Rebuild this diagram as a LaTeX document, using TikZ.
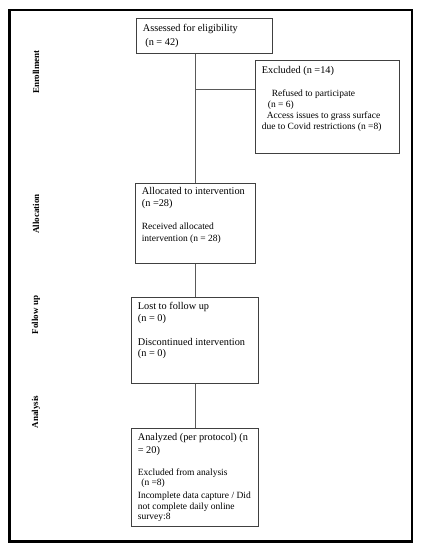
\documentclass[tikz,border=0pt]{standalone}
\usepackage{fontspec}
\setmainfont{Liberation Serif}
\newcommand{\mainsize}{\fontsize{10.3}{12}\selectfont}
\newcommand{\subsize}{\fontsize{9.5}{11}\selectfont}
\tikzset{
  box/.style={draw=black!75, line width=0.7pt, anchor=north west, inner xsep=6.5pt, inner ysep=0pt, font=\mainsize},
  link/.style={draw=black!65, line width=0.8pt},
  phase/.style={rotate=90, font=\fontsize{9}{11}\selectfont\bfseries}
}
\begin{document}
\begin{tikzpicture}[x=1pt, y=-1pt]
\useasboundingbox (0,0) rectangle (422,550);
\draw[line width=2.5pt] (9.5,10) rectangle (412,541.5);
% phases
\node[phase] (enrol) at (36,72) {Enrollment};
\node[phase] (alloct) at (36,214) {Allocation};
\node[phase] (follt) at (36,315) {Follow up};
\node[phase] (analt) at (36,412) {Analysis};
% boxes
\node[box] (assess) at (136,18) {\parbox[t][35pt][t]{123pt}{\rule{0pt}{13pt}Assessed for eligibility\\[2.5pt]\hspace*{2.5pt}(n = 42)}};
\node[box] (excl) at (255,60) {\parbox[t][93pt][t]{131pt}{\rule{0pt}{13pt}Excluded (n =14)\par\vspace{12pt}\subsize\hspace*{10pt}Refused to participate\\\hspace*{6pt}(n = 6)\\\hspace*{5pt}Access issues to grass surface\\due to Covid restrictions (n =8)\par}};
\node[box] (alloc) at (135,183) {\parbox[t][80pt][t]{107pt}{\rule{0pt}{11.5pt}Allocated to intervention\\(n =28)\par\vspace{12pt}\subsize Received allocated\\[1pt]intervention (n = 28)\par}};
\node[box] (follow) at (131,297) {\parbox[t][86pt][t]{114pt}{\rule{0pt}{12.5pt}Lost to follow up\\(n = 0)\\[12pt]Discontinued intervention\\[-1pt](n = 0)}};
\node[box] (anal) at (131,428) {\parbox[t][98pt][t]{114pt}{\rule{0pt}{12.5pt}Analyzed (per protocol) (n\\[1pt]= 20)\par\vspace{11pt}\subsize Excluded from analysis\\[-1pt]\hspace*{3.5pt}(n =8)\\[2pt]Incomplete data capture / Did\\not complete daily online\\[-1pt]survey:8\par}};
% connectors
\coordinate (split) at (195,89);
\draw[link] (assess.south -| alloc.north) -- (alloc.north);
\draw[link] (split) -- (split -| excl.west);
\draw[link] (alloc.south) -- (alloc.south |- follow.north);
\draw[link] (follow.south -| alloc.south) -- (anal.north -| alloc.south);
\end{tikzpicture}
\end{document}
